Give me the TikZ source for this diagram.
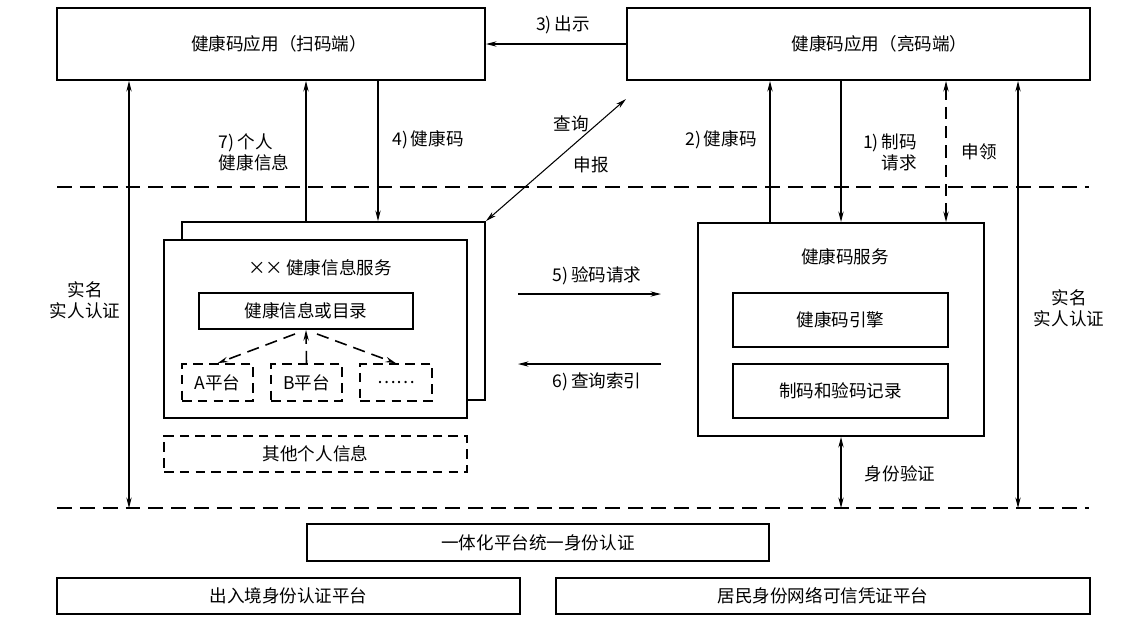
\documentclass[tikz,border=0pt]{standalone}
\usepackage{fontspec}
\setmainfont{Noto Sans CJK SC}
\usetikzlibrary{arrows.meta}

\tikzset{
  box/.style={draw,line width=1.1pt,inner sep=0pt,fill=white},
  dbox/.style={box,line width=0.9pt,dash pattern=on 5.5pt off 3.5pt},
  boxsize/.style 2 args={minimum width=#1*0.02cm,minimum height=#2*0.02cm},
  layerline/.style={line width=1.1pt,dash pattern=on 8.5pt off 4.5pt},
  link/.style={line width=0.6pt},
  dlink/.style={line width=0.9pt,dash pattern=on 7pt off 4pt},
  lbl/.style={inner sep=1pt},
}

\begin{document}
\begin{tikzpicture}[x=0.02cm,y=-0.02cm,>={Stealth[length=6pt,width=3pt]},
  every node/.style={font=\fontsize{10}{12}\selectfont}]
\useasboundingbox (0,0) rectangle (1125,637);
% layer lines
\coordinate (tl) at (57,187); \coordinate (tr) at (1089,187);
\coordinate (bl) at (57,508); \coordinate (br) at (1089,508);
\draw[layerline] (tl) -- (tr);
\draw[layerline] (bl) -- (br);
% app boxes
\node[box,boxsize={428}{72}] (scan) at (271,44) {\hspace*{0.32cm}健康码应用（扫码端）};
\node[box,boxsize={463}{72}] (show) at (858.5,44) {\hspace*{0.84cm}健康码应用（亮码端）};
% health info service (stacked boxes)
\node[box,boxsize={303}{178}] (svcback) at (333.5,311) {};
\node[box,boxsize={303}{178}] (svc) at (315.5,329) {};
\node (svctitle) at (320,268) {××\,健康信息服务};
\node[box,boxsize={214}{36}] (dir) at (306,311) {健康信息或目录};
\node[dbox,boxsize={71}{37}] (pa) at (217.5,382.5) {A平台};
\node[dbox,boxsize={71}{37}] (pb) at (306.5,382.5) {B平台};
\node[dbox,boxsize={72}{37}] (pc) at (396,382.5) {……};
\node[dbox,boxsize={303}{36}] (other) at (315.5,454) {其他个人信息};
\draw[dlink,->] ([xshift=-0.22cm,yshift=-0.08cm]dir.south) -- (pa.north);
\draw[dlink,->] (pb.north) -- (dir.south);
\draw[dlink,->] ([xshift=0.22cm,yshift=-0.08cm]dir.south) -- (pc.north);
% health code service
\node[box,boxsize={286}{213}] (hc) at (841,329.5) {};
\node (hctitle) at (845,257) {健康码服务};
\node[box,boxsize={215}{54}] (eng) at (840.5,320) {健康码引擎};
\node[box,boxsize={215}{54}] (rec) at (840.5,391) {制码和验码记录};
% identity platforms
\node[box,boxsize={462}{37}] (uni) at (538,542.5) {一体化平台统一身份认证};
\node[box,boxsize={463}{36}] (exit) at (288.5,596) {出入境身份认证平台};
\node[box,boxsize={534}{36}] (resid) at (823,596) {居民身份网络可信凭证平台};
% flows between the layers
\coordinate (x0) at (129,0); \coordinate (x7) at (306,0); \coordinate (x4) at (378,0);
\coordinate (x2) at (770,0); \coordinate (x8) at (946,0); \coordinate (x9) at (1018,0);
\coordinate (qtip) at (626,99);
\coordinate (q5a) at (518,294); \coordinate (q5b) at (661,294);
\coordinate (q6a) at (661,364); \coordinate (q6b) at (518,364);
\draw[link,->] (show.west) -- (show.west -| scan.east);
\draw[link,<->] (x0 |- scan.south) -- (x0 |- bl);
\draw[link,->] (x7 |- svcback.north) -- (x7 |- scan.south);
\draw[link,->] (x4 |- scan.south) -- (x4 |- svcback.north);
\draw[link,<->] (svcback.north east) -- (qtip);
\draw[link,->] (x2 |- hc.north) -- (x2 |- show.south);
\draw[link,->] (hc.north |- show.south) -- (hc.north);
\draw[dlink,line width=0.6pt,<->] (x8 |- show.south) -- (x8 |- hc.north);
\draw[link,<->] (x9 |- show.south) -- (x9 |- br);
\draw[link,->] (q5a) -- (q5b);
\draw[link,->] (q6a) -- (q6b);
\draw[link,<->] (hc.south) -- (hc.south |- bl);
% labels
\node[lbl] (l3) at (563,25) {3)\,出示};
\node[lbl,align=left] (l7) at (254,152) {7)\,个人\\健康信息};
\node[lbl] (l4) at (428,140) {4)\,健康码};
\node[lbl] (lq) at (571,124) {查询};
\node[lbl] (lr) at (591,165) {申报};
\node[lbl] (l2) at (721,140) {2)\,健康码};
\node[lbl,align=right] (l1) at (890,152) {1)\,制码\\请求};
\node[lbl] (l8) at (979,152) {申领};
\node[lbl,align=center] (lid1) at (85,300) {实名\\实人认证};
\node[lbl,align=center] (lid2) at (1069,308) {实名\\实人认证};
\node[lbl] (l5) at (597,276) {5)\,验码请求};
\node[lbl] (l6) at (597,382) {6)\,查询索引};
\node[lbl] (lv) at (900,474) {身份验证};
\end{tikzpicture}
\end{document}
